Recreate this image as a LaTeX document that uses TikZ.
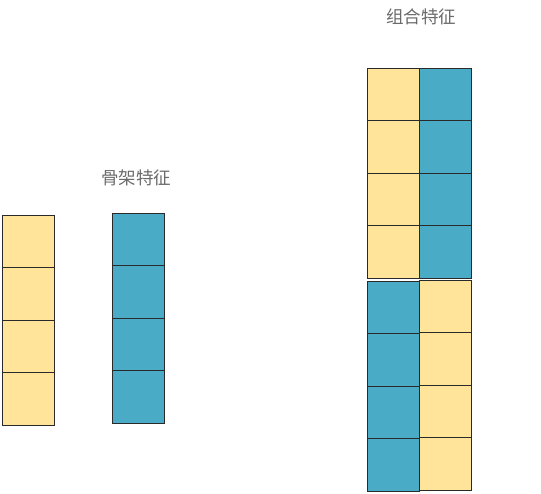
\documentclass[tikz,border=0pt]{standalone}
\usepackage{fontspec}
\newfontfamily\cjk{Noto Sans CJK SC}
\definecolor{cellyellow}{HTML}{FFE499}
\definecolor{cellblue}{HTML}{4AABC6}
\definecolor{celledge}{HTML}{2A2A2A}
\definecolor{labelgray}{HTML}{6A6A6A}
\begin{document}
\begin{tikzpicture}[x=1pt,y=-1pt,
  cell/.style={draw=celledge,line width=0.8pt,minimum width=52pt,minimum height=52.5pt,inner sep=0pt,outer sep=0pt,anchor=north west},
  ycell/.style={cell,fill=cellyellow},
  bcell/.style={cell,fill=cellblue},
  lbl/.style={font=\cjk\fontsize{17.5}{20}\selectfont,text=labelgray,inner sep=0pt}]
\useasboundingbox (0,0) rectangle (541,494);
% left columns
\foreach \i in {0,...,3}{
  \node[ycell] (ly\i) at (2,{215+52.5*\i}) {};
  \node[bcell] (lb\i) at (112,{213+52.5*\i}) {};
}
% combined column upper
\foreach \i in {0,...,3}{
  \node[ycell] (cuy\i) at (367,{68+52.5*\i}) {};
  \node[bcell] (cub\i) at (419,{68+52.5*\i}) {};
}
% combined column lower
\foreach \i in {0,...,3}{
  \node[bcell] (clb\i) at (367,{281+52.5*\i}) {};
  \node[ycell] (cly\i) at (419,{280+52.5*\i}) {};
}
\node[lbl] (t1) at (136,178) {骨架特征};
\node[lbl] (t2) at (421,17) {组合特征};
\end{tikzpicture}
\end{document}
